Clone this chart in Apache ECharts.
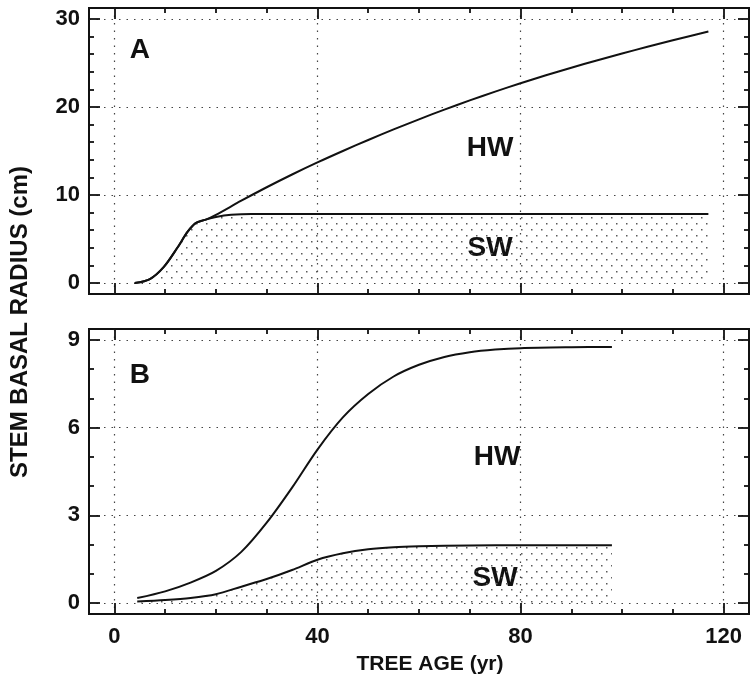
<!DOCTYPE html>
<html>
<head>
<meta charset="utf-8">
<script src="https://cdn.jsdelivr.net/npm/echarts@6/dist/echarts.min.js"></script>
<style>
  html, body { margin: 0; padding: 0; background: #fff; }
  #chart { width: 753px; height: 696px; }
</style>
</head>
<body>
<div id="chart"></div>
<script>
// Panel A: heartwood (HW) and sapwood (SW) outer radius against tree age
const ageHwA = [4, 7, 9.7, 12.4, 14.4, 16, 18, 20, 25, 30, 35, 40, 45, 50, 55, 60, 65, 70, 75, 80, 85, 90, 95, 100, 105, 110, 117];
const hwA    = [0, 0.45, 1.8, 4.0, 5.8, 6.8, 7.2, 7.75, 9.35, 10.88, 12.33, 13.7, 15.0, 16.25, 17.45, 18.6, 19.7, 20.75, 21.75, 22.7, 23.6, 24.46, 25.29, 26.08, 26.84, 27.58, 28.57];
const ageSwA = [4, 7, 9.7, 12.4, 14.4, 16, 18, 20, 23, 27, 40, 60, 80, 100, 117];
const swA    = [0, 0.45, 1.8, 4.0, 5.8, 6.8, 7.2, 7.5, 7.75, 7.85, 7.85, 7.85, 7.85, 7.85, 7.85];

// Panel B
const ageHwB = [4.5, 10, 15, 20, 25, 30, 35, 40, 45, 50, 55, 60, 65, 70, 75, 80, 90, 98];
const hwB    = [0.17, 0.4, 0.7, 1.1, 1.75, 2.75, 3.95, 5.25, 6.35, 7.15, 7.75, 8.15, 8.42, 8.58, 8.67, 8.72, 8.75, 8.76];
const ageSwB = [4.5, 10, 15, 20, 25, 30, 35, 40, 45, 50, 55, 60, 70, 80, 98];
const swB    = [0.05, 0.1, 0.17, 0.3, 0.56, 0.82, 1.13, 1.48, 1.7, 1.84, 1.91, 1.94, 1.97, 1.98, 1.98];

// Tick positions
const xMajor  = [0, 40, 80, 120];
const xMinor  = [10, 20, 30, 50, 60, 70, 90, 100, 110];
const yMajorA = [0, 10, 20, 30];
const yMinorA = [2, 4, 6, 8, 12, 14, 16, 18, 22, 24, 26, 28];
const yMajorB = [0, 3, 6, 9];
const yMinorB = [1, 2, 4, 5, 7, 8];

// Region labels
const panelNames = ['A', 'B'];
const regionNames = ['HW', 'SW'];

const FONT = '"Liberation Sans", Arial, Helvetica, sans-serif';

function stipple() {
  const c = document.createElement('canvas');
  c.width = 10; c.height = 12;
  const g = c.getContext('2d');
  g.fillStyle = '#5a5a5a';
  g.fillRect(1, 1, 1.5, 1.5);
  g.fillRect(6, 7, 1.5, 1.5);
  return c;
}
const dots = { image: stipple(), repeat: 'repeat' };

const grids = [
  { left: 89, top: 8, width: 660, height: 286 },
  { left: 89, top: 329, width: 660, height: 285 }
];
const yRange = [[-1.25, 31.25], [-0.375, 9.375]];
const yMajor = [yMajorA, yMajorB];
const yMinor = [yMinorA, yMinorB];

const dotted = { color: '#444', width: 1.2, type: [1.5, 6] };
const tickLine = { color: '#111', width: 1.8 };

const xAxes = [], yAxes = [];
grids.forEach((g, gi) => {
  ['bottom', 'top'].forEach(pos => {
    [['major', xMajor, 11], ['minor', xMinor, 5]].forEach(([kind, vals, len]) => {
      const main = pos === 'bottom' && kind === 'major';
      xAxes.push({
        type: 'value', gridIndex: gi, position: pos, min: -5, max: 125,
        axisLine: { show: false, onZero: false },
        axisTick: { show: true, inside: true, length: len, customValues: vals, lineStyle: tickLine },
        axisLabel: { show: main && gi === 1, customValues: vals, margin: 12,
                     color: '#111', fontFamily: FONT, fontWeight: 'bold', fontSize: 22 },
        splitLine: { show: main, lineStyle: dotted }
      });
    });
  });
  ['left', 'right'].forEach(pos => {
    [['major', yMajor[gi], 11], ['minor', yMinor[gi], 5]].forEach(([kind, vals, len]) => {
      const main = pos === 'left' && kind === 'major';
      yAxes.push({
        type: 'value', gridIndex: gi, position: pos, min: yRange[gi][0], max: yRange[gi][1],
        axisLine: { show: false, onZero: false },
        axisTick: { show: true, inside: true, length: len, customValues: vals, lineStyle: tickLine },
        axisLabel: { show: main, customValues: vals, margin: 9,
                     color: '#111', fontFamily: FONT, fontWeight: 'bold', fontSize: 22 },
        splitLine: { show: main, lineStyle: dotted }
      });
    });
  });
});

function curve(ages, vals, gi, filled) {
  return {
    type: 'line', xAxisIndex: gi * 4, yAxisIndex: gi * 4,
    data: ages.map((a, i) => [a, vals[i]]),
    smooth: 0.3, symbol: 'none',
    lineStyle: { color: '#111', width: 2 },
    areaStyle: filled ? { color: dots, opacity: 1 } : undefined,
    z: filled ? 2 : 3
  };
}

const chart = echarts.init(document.getElementById('chart'), null, { renderer: 'canvas' });
chart.setOption({
  animation: false,
  backgroundColor: '#fff',
  grid: grids.map(g => Object.assign({
    show: true, borderColor: '#111', borderWidth: 2, backgroundColor: 'transparent',
    containLabel: false, outerBoundsMode: 'none'
  }, g)),
  xAxis: xAxes,
  yAxis: yAxes,
  series: [
    curve(ageSwA, swA, 0, true),
    curve(ageHwA, hwA, 0, false),
    curve(ageSwB, swB, 1, true),
    curve(ageHwB, hwB, 1, false)
  ]
});

// Text placed in data coordinates of each panel
const regionPos = [
  [[74, 15.3], [74, 3.9]],
  [[75.4, 5.0], [75, 0.86]]
];
const panelPos = [[5, 26.5], [5, 7.8]];
const graphics = [];
const big = { fontFamily: FONT, fontWeight: 'bold', fontSize: 28, fill: '#111',
              align: 'center', verticalAlign: 'middle' };
[0, 1].forEach(gi => {
  const p = chart.convertToPixel({ gridIndex: gi }, panelPos[gi]);
  graphics.push({ type: 'text', x: p[0], y: p[1], style: Object.assign({ text: panelNames[gi] }, big) });
  regionNames.forEach((name, k) => {
    const q = chart.convertToPixel({ gridIndex: gi }, regionPos[gi][k]);
    graphics.push({ type: 'text', x: q[0], y: q[1], style: Object.assign({ text: name }, big) });
  });
});
graphics.push({
  type: 'text', x: 430, y: 664,
  style: { text: 'TREE AGE (yr)', fontFamily: FONT, fontWeight: 'bold', fontSize: 21,
           fill: '#111', align: 'center', verticalAlign: 'middle' }
});
graphics.push({
  type: 'text', x: 20, y: 322, rotation: Math.PI / 2,
  style: { text: 'STEM BASAL RADIUS (cm)', fontFamily: FONT, fontWeight: 'bold', fontSize: 24,
           fill: '#111', align: 'center', verticalAlign: 'middle' }
});
chart.setOption({ graphic: graphics });
</script>
</body>
</html>
